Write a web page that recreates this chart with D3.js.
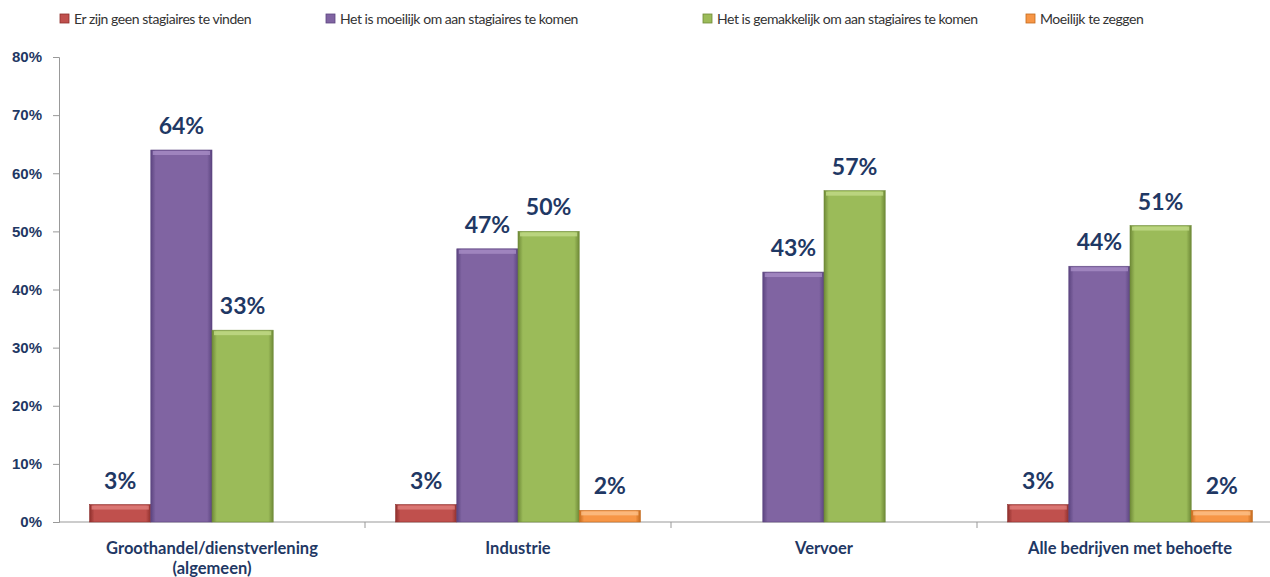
<!DOCTYPE html>
<meta charset="utf-8">
<style>
body { margin: 0; background: #fff; }
svg { font-family: Lato, "Open Sans", sans-serif; }
.legend text { font-size: 14px; fill: #333; letter-spacing: -0.45px; }
.yaxis text { font-size: 15px; font-weight: bold; fill: #1f3864; }
.cat text { font-size: 16.5px; font-weight: bold; fill: #1f3864; }
.val { font-size: 23px; font-weight: bold; fill: #1f3864; }
</style>
<svg width="1270" height="577"></svg>
<script src="https://cdn.jsdelivr.net/npm/d3@7"></script>
<script>

var categories = ["Groothandel/dienstverlening\n(algemeen)", "Industrie", "Vervoer", "Alle bedrijven met behoefte"];
var seriesNames = ["Er zijn geen stagiaires te vinden", "Het is moeilijk om aan stagiaires te komen",
  "Het is gemakkelijk om aan stagiaires te komen", "Moeilijk te zeggen"];
var geenStagiaires = [3, 3, null, 3];
var moeilijk = [64, 47, 43, 44];
var gemakkelijk = [33, 50, 57, 51];
var moeilijkZeggen = [null, 2, null, 2];
var yTicks = [0, 10, 20, 30, 40, 50, 60, 70, 80];

var colors = ["#c0504d", "#8064a2", "#9bbb59", "#f79646"];
var darks = ["#8e2f2c", "#5c4580", "#6f8a38", "#c46a1d"];
var lights = ["#e0807d", "#a68cc6", "#c2db88", "#fbc08a"];
var series = [geenStagiaires, moeilijk, gemakkelijk, moeilijkZeggen];

var svg = d3.select("svg");

var x0 = d3.scaleBand().domain(d3.range(categories.length)).range([59, 1283]).paddingInner(0).paddingOuter(0);
var x1 = d3.scaleBand().domain(d3.range(series.length)).range([0, x0.bandwidth()]).paddingOuter(0.5).paddingInner(0);
var y = d3.scaleLinear().domain([0, 80]).range([522, 57]);

// gradients for bevel look
var defs = svg.append("defs");
colors.forEach(function(c, i) {
  var g = defs.append("linearGradient").attr("id", "g" + i).attr("x1", 0).attr("x2", 1).attr("y1", 0).attr("y2", 0);
  g.append("stop").attr("offset", "0%").attr("stop-color", darks[i]);
  g.append("stop").attr("offset", "8%").attr("stop-color", c);
  g.append("stop").attr("offset", "92%").attr("stop-color", c);
  g.append("stop").attr("offset", "100%").attr("stop-color", darks[i]);
});

// legend
var legX = [60, 326, 703, 1026];
var leg = svg.append("g").attr("class", "legend");
seriesNames.forEach(function(n, i) {
  leg.append("rect").attr("x", legX[i]).attr("y", 14).attr("width", 9).attr("height", 9)
    .attr("fill", colors[i]).attr("stroke", darks[i]).attr("stroke-width", 0.8);
  leg.append("text").attr("x", legX[i] + 14).attr("y", 24).text(n);
});

// y axis
var yAxis = svg.append("g").attr("class", "yaxis").attr("transform", "translate(59,0)")
  .call(d3.axisLeft(y).tickValues(yTicks).tickSize(6).tickPadding(11).tickFormat(function(d) { return d + "%"; }));
yAxis.select(".domain").attr("stroke", "#999");
yAxis.selectAll(".tick line").attr("stroke", "#999");

// x axis baseline and category separators
svg.append("line").attr("x1", 59).attr("x2", 1283).attr("y1", y(0)).attr("y2", y(0)).attr("stroke", "#999");
svg.selectAll(".sep").data(d3.range(1, categories.length + 1)).enter().append("line")
  .attr("x1", function(d) { return 59 + d * x0.bandwidth(); })
  .attr("x2", function(d) { return 59 + d * x0.bandwidth(); })
  .attr("y1", y(0)).attr("y2", y(0) + 6).attr("stroke", "#999");

// bars
categories.forEach(function(cat, ci) {
  var g = svg.append("g").attr("transform", "translate(" + x0(ci) + ",0)");
  series.forEach(function(s, si) {
    var v = s[ci];
    if (v == null) return;
    var bx = x1(si), bw = x1.bandwidth();
    g.append("rect").attr("x", bx).attr("y", y(v)).attr("width", bw).attr("height", y(0) - y(v))
      .attr("fill", "url(#g" + si + ")").attr("stroke", darks[si]).attr("stroke-width", 0.6);
    g.append("rect").attr("x", bx + 2).attr("y", y(v) + 1).attr("width", bw - 4).attr("height", 4)
      .attr("fill", lights[si]).attr("opacity", 0.8);
    g.append("text").attr("class", "val").attr("x", bx + bw / 2).attr("y", y(v) - 16)
      .attr("text-anchor", "middle").text(v + "%");
  });
  var t = svg.append("g").attr("class", "cat").append("text")
    .attr("x", x0(ci) + x0.bandwidth() / 2).attr("y", 554).attr("text-anchor", "middle");
  cat.split("\n").forEach(function(line, li) {
    t.append("tspan").attr("x", x0(ci) + x0.bandwidth() / 2).attr("dy", li ? 20 : 0).text(line);
  });
});

</script>
